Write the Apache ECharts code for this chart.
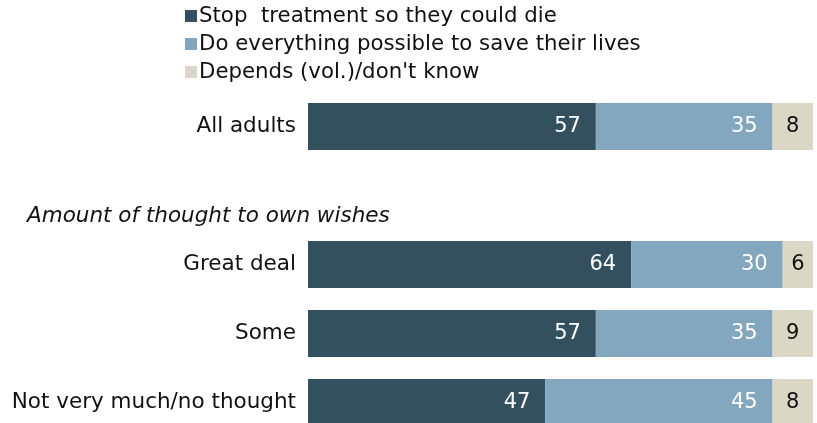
<!DOCTYPE html>
<html><head><meta charset="utf-8">
<script src="https://cdn.jsdelivr.net/npm/echarts@6/dist/echarts.min.js"></script>
<style>html,body{margin:0;padding:0;background:#fff}#c{width:817px;height:423px}</style>
</head><body><div id="c"></div>
<script>
const categories = ['All adults', '', 'Great deal', 'Some', 'Not very much/no thought'];
const seriesNames = ['Stop  treatment so they could die', 'Do everything possible to save their lives', "Depends (vol.)/don't know"];
const stopVals = [57, null, 64, 57, 47];
const doVals = [35, null, 30, 35, 45];
const dependsVals = [8, null, 6, 9, 8];
const subHeader = 'Amount of thought to own wishes';

const colors = ['#33505f', '#83a7bf', '#dcd7c5'];
const FONT = 'DejaVu Sans';
const chart = echarts.init(document.getElementById('c'));
function mk(i, data, pos, lblColor, dist) {
  return {
    name: seriesNames[i], type: 'bar', stack: 'a', data: data, barWidth: 47,
    itemStyle: { color: colors[i] },
    label: { show: true, position: pos, distance: dist, color: lblColor, fontFamily: FONT, fontSize: 21,
      formatter: p => p.value == null ? '' : p.value }
  };
}
chart.setOption({
  animation: false,
  legend: {
    orient: 'vertical', left: 180, top: 0, itemWidth: 12, itemHeight: 12, itemGap: 6,
    icon: 'rect',
    textStyle: { fontFamily: FONT, fontSize: 21.3, color: '#111', lineHeight: 22, padding: [0,0,0,-3] },
    data: seriesNames
  },
  grid: { left: 308, right: 4, top: 92, height: 345, containLabel: false, outerBoundsMode: 'none' },
  xAxis: { type: 'value', min: 0, max: 100, show: false },
  yAxis: {
    type: 'category', data: categories, inverse: true,
    axisLine: { show: false }, axisTick: { show: false },
    axisLabel: { margin: 12, fontFamily: FONT, fontSize: 21.5, color: '#111' }
  },
  graphic: [{ type: 'text', left: 27, top: 205,
    style: { text: subHeader, font: 'italic 21.5px "DejaVu Sans"', fill: '#111' } }],
  series: [
    mk(0, stopVals, 'insideRight', '#fff', 15),
    mk(1, doVals, 'insideRight', '#fff', 15),
    mk(2, dependsVals, 'inside', '#111', 5)
  ]
});
</script></body></html>
